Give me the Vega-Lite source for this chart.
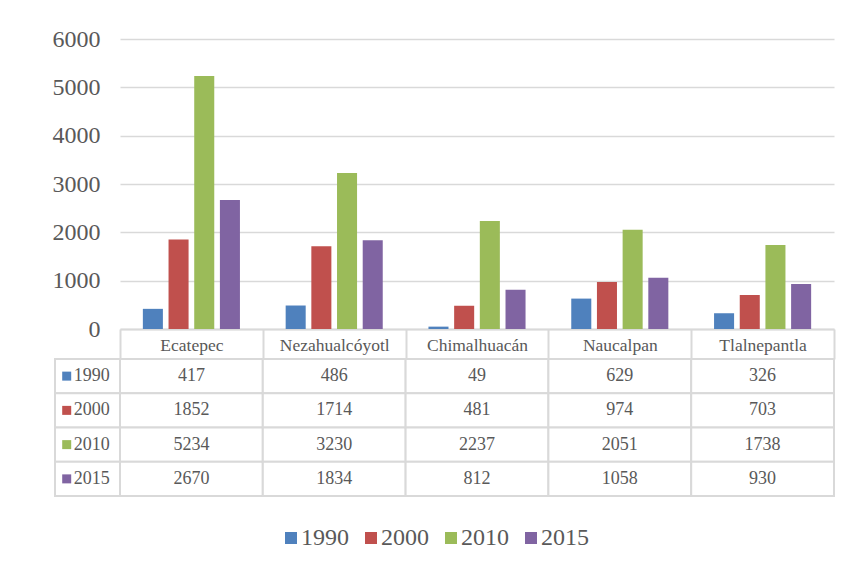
{
  "$schema": "https://vega.github.io/schema/vega-lite/v6.json",
  "padding": {"left": 52, "top": 27, "right": 20, "bottom": 10},
  "background": "white",
  "config": {
    "view": {"stroke": null},
    "font": "Liberation Serif",
    "legend": {"labelFont": "Liberation Serif"}
  },
  "datasets": {
    "pop": [
      {"municipio": "Ecatepec", "year": "1990", "value": 417},
      {"municipio": "Ecatepec", "year": "2000", "value": 1852},
      {"municipio": "Ecatepec", "year": "2010", "value": 5234},
      {"municipio": "Ecatepec", "year": "2015", "value": 2670},
      {"municipio": "Nezahualcóyotl", "year": "1990", "value": 486},
      {"municipio": "Nezahualcóyotl", "year": "2000", "value": 1714},
      {"municipio": "Nezahualcóyotl", "year": "2010", "value": 3230},
      {"municipio": "Nezahualcóyotl", "year": "2015", "value": 1834},
      {"municipio": "Chimalhuacán", "year": "1990", "value": 49},
      {"municipio": "Chimalhuacán", "year": "2000", "value": 481},
      {"municipio": "Chimalhuacán", "year": "2010", "value": 2237},
      {"municipio": "Chimalhuacán", "year": "2015", "value": 812},
      {"municipio": "Naucalpan", "year": "1990", "value": 629},
      {"municipio": "Naucalpan", "year": "2000", "value": 974},
      {"municipio": "Naucalpan", "year": "2010", "value": 2051},
      {"municipio": "Naucalpan", "year": "2015", "value": 1058},
      {"municipio": "Tlalnepantla", "year": "1990", "value": 326},
      {"municipio": "Tlalnepantla", "year": "2000", "value": 703},
      {"municipio": "Tlalnepantla", "year": "2010", "value": 1738},
      {"municipio": "Tlalnepantla", "year": "2015", "value": 930}
    ],
    "years": [
      {"year": "1990"},
      {"year": "2000"},
      {"year": "2010"},
      {"year": "2015"}
    ]
  },
  "columns": 2,
  "spacing": {"row": 30, "column": 0},
  "bounds": "flush",
  "resolve": {"scale": {"color": "shared"}},
  "concat": [
    {
      "width": 65,
      "height": 290,
      "data": {"values": []},
      "mark": {"type": "point", "opacity": 0},
      "encoding": {}
    },
    {
      "width": 714,
      "height": 290,
      "data": {"name": "pop"},
      "mark": {"type": "bar"},
      "encoding": {
        "x": {
          "field": "municipio",
          "type": "nominal",
          "sort": ["Ecatepec", "Nezahualcóyotl", "Chimalhuacán", "Naucalpan", "Tlalnepantla"],
          "scale": {"paddingInner": 0, "paddingOuter": 0},
          "axis": {
            "title": null,
            "labelAngle": 0,
            "labelFont": "Liberation Serif",
            "labelFontSize": 17.5,
            "labelColor": "#595959",
            "labelPadding": -23,
            "domainColor": "#d9d9d9",
            "domainWidth": 2,
            "tickColor": "#d9d9d9",
            "tickWidth": 2,
            "tickSize": 30,
            "tickBand": "extent"
          }
        },
        "xOffset": {
          "field": "year",
          "type": "nominal",
          "scale": {"paddingInner": 0.22, "paddingOuter": 0.89}
        },
        "y": {
          "field": "value",
          "type": "quantitative",
          "scale": {"domain": [0, 6000]},
          "axis": {
            "title": null,
            "values": [0, 1000, 2000, 3000, 4000, 5000, 6000],
            "format": "d",
            "domain": false,
            "ticks": false,
            "labelPadding": 20,
            "labelFont": "Liberation Serif",
            "labelFontSize": 24,
            "labelColor": "#595959",
            "gridColor": "#d9d9d9",
            "gridWidth": 1.5
          }
        },
        "color": {
          "field": "year",
          "type": "nominal",
          "scale": {
            "domain": ["1990", "2000", "2010", "2015"],
            "range": ["#4F81BD", "#C0504D", "#9BBB59", "#8064A2"]
          },
          "legend": {
            "title": null,
            "orient": "none",
            "direction": "horizontal",
            "legendX": 224,
            "legendY": 487,
            "symbolType": "square",
            "symbolSize": 144,
            "symbolStrokeWidth": 0,
            "labelFont": "Liberation Serif",
            "labelFontSize": 24,
            "labelColor": "#595959",
            "labelOffset": -2,
            "columnPadding": 10
          }
        }
      }
    },
    {
      "width": 65,
      "height": 137,
      "data": {"name": "years"},
      "layer": [
        {
          "mark": {"type": "rect", "fill": "white", "stroke": "#d9d9d9", "strokeWidth": 2},
          "encoding": {
            "y": {
              "field": "year",
              "type": "nominal",
              "scale": {"paddingInner": 0, "paddingOuter": 0},
              "axis": null
            }
          }
        },
        {
          "mark": {"type": "point", "shape": "square", "filled": true, "size": 81, "opacity": 1},
          "encoding": {
            "x": {"datum": 0.18, "type": "quantitative", "scale": {"domain": [0, 1]}, "axis": null},
            "y": {"field": "year", "type": "nominal", "axis": null},
            "color": {
              "field": "year",
              "type": "nominal",
              "legend": {
                "title": null,
                "orient": "none",
                "direction": "horizontal",
                "legendX": 224,
                "legendY": 487,
                "symbolType": "square",
                "symbolSize": 144,
                "symbolStrokeWidth": 0,
                "labelFont": "Liberation Serif",
                "labelFontSize": 24,
                "labelColor": "#595959",
                "labelOffset": -2,
                "columnPadding": 10
              }
            }
          }
        },
        {
          "mark": {"type": "text", "align": "left", "baseline": "middle", "font": "Liberation Serif", "fontSize": 18, "color": "#595959"},
          "encoding": {
            "x": {"datum": 0.29, "type": "quantitative", "scale": {"domain": [0, 1]}, "axis": null},
            "y": {"field": "year", "type": "nominal", "axis": null},
            "text": {"field": "year"}
          }
        }
      ]
    },
    {
      "width": 714,
      "height": 137,
      "data": {"name": "pop"},
      "encoding": {
        "x": {
          "field": "municipio",
          "type": "nominal",
          "sort": ["Ecatepec", "Nezahualcóyotl", "Chimalhuacán", "Naucalpan", "Tlalnepantla"],
          "scale": {"paddingInner": 0, "paddingOuter": 0},
          "axis": null
        },
        "y": {
          "field": "year",
          "type": "nominal",
          "scale": {"paddingInner": 0, "paddingOuter": 0},
          "axis": null
        }
      },
      "layer": [
        {
          "mark": {"type": "rect", "fill": "white", "stroke": "#d9d9d9", "strokeWidth": 2}
        },
        {
          "mark": {"type": "text", "baseline": "middle", "font": "Liberation Serif", "fontSize": 18, "color": "#595959"},
          "encoding": {"text": {"field": "value", "type": "quantitative", "format": "d"}}
        }
      ]
    }
  ]
}
